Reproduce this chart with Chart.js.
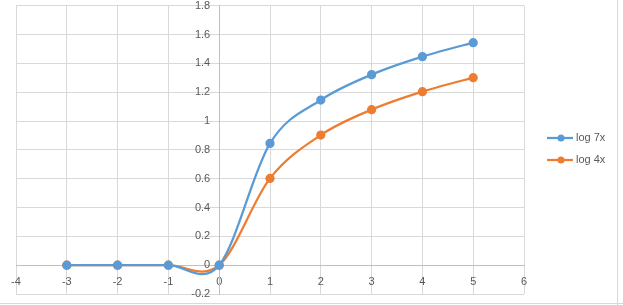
<!DOCTYPE html>
<html>
<head>
<meta charset="utf-8">
<script src="https://cdn.jsdelivr.net/npm/chart.js@4/dist/chart.umd.min.js"></script>
<style>
html,body{margin:0;padding:0;background:#fff;}
#wrap{width:623px;height:305px;position:relative;}
</style>
</head>
<body>
<div id="wrap"><canvas id="c" width="623" height="305"></canvas></div>
<script>
const xValues = [-3, -2, -1, 0, 1, 2, 3, 4, 5];
const log7x = [0, 0, 0, 0, 0.845, 1.146, 1.322, 1.447, 1.544];
const log4x = [0, 0, 0, 0, 0.602, 0.903, 1.079, 1.204, 1.301];
const seriesNames = ['log 7x', 'log 4x'];
const xTicks = [-4, -3, -2, -1, 0, 1, 2, 3, 4, 5, 6];
const yTicks = [-0.2, 0, 0.2, 0.4, 0.6, 0.8, 1, 1.2, 1.4, 1.6, 1.8];

const BLUE = '#5B9BD5', ORANGE = '#ED7D31';
const FONT = "'Liberation Sans', 'DejaVu Sans', sans-serif";

function pts(ys){ return xValues.map((x,i)=>({x:x, y:ys[i]})); }

// Excel-like smoothing (Catmull-Rom control points)
const smoothPlugin = {
  id: 'excelSmooth',
  beforeDatasetDraw(chart, args){
    const meta = args.meta;
    const line = meta.dataset;
    const p = meta.data;
    const n = p.length;
    for (let i = 0; i < n; i++){
      const prev = p[Math.max(i-1,0)], next = p[Math.min(i+1,n-1)];
      const dx = (next.x - prev.x)/6, dy = (next.y - prev.y)/6;
      p[i].cp1x = p[i].x - dx; p[i].cp1y = p[i].y - dy;
      p[i].cp2x = p[i].x + dx; p[i].cp2y = p[i].y + dy;
    }
    if (line) { line._pointsUpdated = true; line._path = undefined; }
  }
};

// move y tick labels a little away from the crossing axis
const labelShiftPlugin = {
  id: 'labelShift',
  beforeDraw(chart){
    const s = chart.scales.y;
    const items = s.getLabelItems(chart.chartArea);
    if (!items._shifted){
      items.forEach(it => { it.options.translation[0] -= 9; });
      items._shifted = true;
    }
  }
};

const legendPlugin = {
  id: 'sideLegend',
  afterDraw(chart){
    const ctx = chart.ctx;
    ctx.save();
    const items = chart.data.datasets;
    const ys = [138, 160];
    items.forEach((ds,i)=>{
      const y = ys[i];
      ctx.strokeStyle = ds.borderColor;
      ctx.lineWidth = 2.25;
      ctx.beginPath(); ctx.moveTo(547, y); ctx.lineTo(573, y); ctx.stroke();
      ctx.fillStyle = ds.borderColor;
      ctx.beginPath(); ctx.arc(561, y, 3.5, 0, Math.PI*2); ctx.fill();
      ctx.fillStyle = '#595959';
      ctx.font = '11px ' + FONT;
      ctx.textAlign = 'left';
      ctx.textBaseline = 'middle';
      ctx.fillText(ds.label, 576, y);
    });
    ctx.strokeStyle = '#d9d9d9';
    ctx.lineWidth = 1;
    ctx.beginPath(); ctx.moveTo(617.5, 0); ctx.lineTo(617.5, 305); ctx.stroke();
    ctx.beginPath(); ctx.moveTo(0, 303.5); ctx.lineTo(623, 303.5); ctx.stroke();
    ctx.restore();
  }
};

function zeroPad(s){ s.paddingTop = 0; s.paddingBottom = 0; s.paddingLeft = 0; s.paddingRight = 0; }

new Chart(document.getElementById('c'), {
  type: 'scatter',
  data: {
    datasets: [
      {label: seriesNames[0], data: pts(log7x), borderColor: BLUE, backgroundColor: BLUE,
       showLine: true, tension: 0.4, borderWidth: 2.25, pointRadius: 3.5, pointHoverRadius: 3.5},
      {label: seriesNames[1], data: pts(log4x), borderColor: ORANGE, backgroundColor: ORANGE,
       showLine: true, tension: 0.4, borderWidth: 2.25, pointRadius: 3.5, pointHoverRadius: 3.5}
    ]
  },
  options: {
    responsive: false,
    animation: false,
    layout: {padding: {left: 16, right: 99, top: 4, bottom: 11}},
    plugins: {legend: {display: false}, tooltip: {enabled: false}},
    scales: {
      x: {
        type: 'linear', position: {y: 0}, min: -4, max: 6,
        afterBuildTicks: s => { s.ticks = xTicks.map(v=>({value:v})); },
        afterFit: zeroPad,
        ticks: {color: '#595959', font: {family: FONT, size: 11}, padding: 4,
                callback: v => String(v)},
        grid: {color: '#d9d9d9', drawTicks: true, tickLength: 6, tickColor: 'rgba(0,0,0,0)'},
        border: {color: '#bfbfbf', width: 1}
      },
      y: {
        type: 'linear', position: {x: 0}, min: -0.2, max: 1.8,
        afterBuildTicks: s => { s.ticks = yTicks.map(v=>({value:v})); },
        afterFit: zeroPad,
        ticks: {color: '#595959', font: {family: FONT, size: 11}, padding: 4,
                callback: v => String(parseFloat(v.toFixed(1)))},
        grid: {color: '#d9d9d9', drawTicks: true, tickLength: 4, tickColor: 'rgba(0,0,0,0)'},
        border: {color: '#bfbfbf', width: 1}
      }
    }
  },
  plugins: [smoothPlugin, labelShiftPlugin, legendPlugin]
});
</script>
</body>
</html>
